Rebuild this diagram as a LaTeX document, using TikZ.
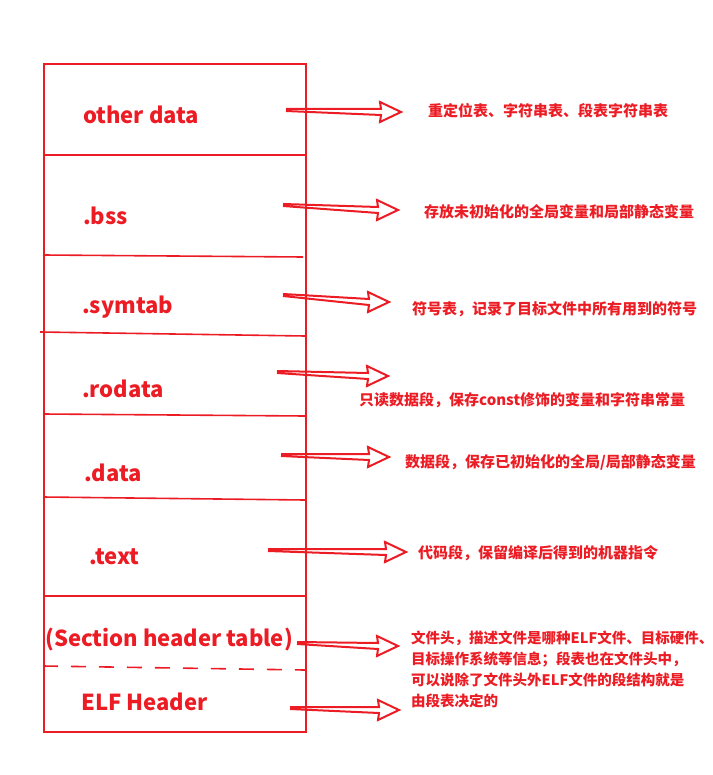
\documentclass[tikz,border=0pt]{standalone}
\usepackage{fontspec}
\setmainfont{Noto Sans CJK SC}
\usetikzlibrary{calc}
\definecolor{pen}{RGB}{236,28,36}
\newcommand\harrow[2]{\draw[harr] ($(#1)+(0,-1)$) -- ($(#2)+(-20,-3)$) -- ($(#2)+(-21,-10)$) -- (#2) -- ($(#2)+(-21,10)$) -- ($(#2)+(-20,3)$) -- ($(#1)+(0,1)$);}
\begin{document}
\begin{tikzpicture}[x=1pt,y=-1pt,
  every node/.style={text=pen, inner sep=0pt},
  lbl/.style={anchor=west, font=\bfseries\fontsize{22}{26}\selectfont},
  note/.style={anchor=west, font=\bfseries\fontsize{15}{21}\selectfont},
  sep/.style={draw=pen, line width=1.6pt},
  harr/.style={draw=pen, line width=2pt, line join=miter}]
\useasboundingbox (0,0) rectangle (712,775);
% frame
\node[draw=pen, line width=2pt, minimum width=262pt, minimum height=668pt, anchor=north west] (box) at (43,63) {};
\draw[sep] (box.west |- 0,155) -- (box.east |- 0,155);
\draw[sep] (43,255) -- (303,257);
\draw[sep] (40,332) -- (305,336);
\draw[sep] (43,414) -- (305,416);
\draw[sep] (43,497) -- (305,500);
\draw[sep] (box.west |- 0,596) -- (box.east |- 0,596);
\draw[sep, dash pattern=on 15pt off 13pt] (43,666) -- (305,670);
% section labels
\node[lbl] (l1) at (83,115) {other data};
\node[lbl] (l2) at (83,216) {.bss};
\node[lbl] (l3) at (82,307) {.symtab};
\node[lbl] (l4) at (82,389) {.rodata};
\node[lbl] (l5) at (84,473) {.data};
\node[lbl] (l6) at (89,557) {.text};
\node[lbl] (l7) at (45,639) {(Section header table)};
\node[lbl] (l8) at (81,702) {ELF Header};
% notes
\node[note] (n1) at (428,111) {重定位表、字符串表、段表字符串表};
\node[note] (n2) at (424,212) {存放未初始化的全局变量和局部静态变量};
\node[note] (n3) at (412,309) {符号表，记录了目标文件中所有用到的符号};
\node[note] (n4) at (359,400) {只读数据段，保存const修饰的变量和字符串常量};
\node[note] (n5) at (405,462) {数据段，保存已初始化的全局/局部静态变量};
\node[note] (n6) at (418,553) {代码段，保留编译后得到的机器指令};
\node[note, anchor=north west, align=left, font=\bfseries\fontsize{14.5}{21}\selectfont] (n7) at (411,631)
  {文件头，描述文件是哪种ELF文件、目标硬件、\\目标操作系统等信息；段表也在文件头中，\\可以说除了文件头外ELF文件的段结构就是\\由段表决定的};
% arrows
\coordinate (t1) at (286,110); \coordinate (h1) at (401,112);
\coordinate (t2) at (283,205); \coordinate (h2) at (398,210);
\coordinate (t3) at (283,295); \coordinate (h3) at (389,302);
\coordinate (t4) at (277,372); \coordinate (h4) at (388,376);
\coordinate (t5) at (281,455); \coordinate (h5) at (389,457);
\coordinate (t6) at (268,550); \coordinate (h6) at (406,552);
\coordinate (t7) at (297,643); \coordinate (h7) at (398,646);
\coordinate (t8) at (290,708); \coordinate (h8) at (399,710);
\harrow{t1}{h1}
\harrow{t2}{h2}
\harrow{t3}{h3}
\harrow{t4}{h4}
\harrow{t5}{h5}
\harrow{t6}{h6}
\harrow{t7}{h7}
\harrow{t8}{h8}
\end{tikzpicture}
\end{document}
